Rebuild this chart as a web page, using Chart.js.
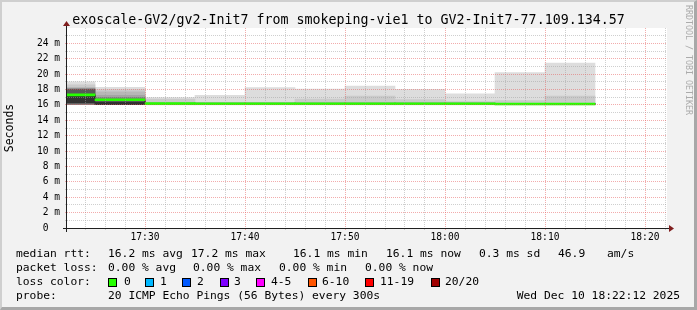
<!DOCTYPE html>
<html><head><meta charset="utf-8">
<script src="https://cdn.jsdelivr.net/npm/chart.js@4.4.1/dist/chart.umd.min.js"></script>
<style>
html,body{margin:0;padding:0;}
body{width:697px;height:310px;overflow:hidden;background:#f2f2f2;position:relative;font-family:"DejaVu Sans Mono",monospace;color:#000;}
#c{position:absolute;left:0;top:0;}
#frame{position:absolute;left:0;top:0;width:697px;height:310px;box-sizing:border-box;border-left:2px solid #cfcfcf;border-top:2px solid #cfcfcf;border-right:3px solid #a8a8a8;border-bottom:3px solid #a8a8a8;pointer-events:none;}
#title{position:absolute;left:0;top:12px;width:697px;text-align:center;font-size:13.3px;line-height:16px;white-space:pre;}
#wm{position:absolute;left:684px;top:5px;writing-mode:vertical-rl;font-size:8.3px;line-height:10px;color:#ababab;white-space:pre;}
.t{position:absolute;white-space:pre;font-size:11.3px;line-height:14px;}
.box{position:absolute;width:7px;height:7px;border:1px solid #000;}
</style>
</head><body>
<canvas id="c" width="697" height="310"></canvas>
<div id="title">exoscale-GV2/gv2-Init7 from smokeping-vie1 to GV2-Init7-77.109.134.57</div>
<div id="wm">RRDTOOL / TOBI OETIKER</div>
<div id="legend"></div>
<div id="frame"></div>
<script>
// time in minutes after 17:00; each value covers the 5 minutes ending at intervalEnds[i]
const intervalEnds = [25, 30, 35, 40, 45, 50, 55, 60, 65, 70, 75];
const median = [17.3, 16.67, 16.17, 16.15, 16.15, 16.15, 16.15, 16.15, 16.15, 16.12, 16.12];
// smoke layers (outer -> inner), values in ms as [low, high]
const smoke1 = [[16.04,19.0],[16.02,18.3],[16.0,16.95],[16.0,17.25],[16.0,18.25],[16.0,18.07],[16.0,18.45],[16.0,18.03],[16.0,17.43],[16.0,20.2],[16.0,21.45]];
const smoke2 = [[16.04,18.6],[16.03,18.0],[16.02,16.77],[16.02,16.3],[16.02,16.3],[16.02,16.77],[16.02,17.16],[16.02,16.7],[16.02,16.43],[16.02,16.55],[16.02,17.16]];
const smoke3 = [[16.04,18.3],[16.04,17.7],[16.05,16.25],[16.05,16.25],[16.05,16.25],[16.05,16.25],[16.05,16.25],[16.05,16.25],[16.05,16.25],[16.04,16.22],[16.04,16.22]];
const smoke4 = [[16.04,18.07],[16.04,17.25],[16.07,16.24],[16.07,16.24],[16.07,16.24],[16.07,16.24],[16.07,16.24],[16.07,16.24],[16.07,16.24],[16.05,16.2],[16.05,16.2]];
const smoke5 = [[16.04,18.07],[16.04,17.0],[16.08,16.23],[16.08,16.23],[16.08,16.23],[16.08,16.23],[16.08,16.23],[16.08,16.23],[16.08,16.23],[16.06,16.19],[16.06,16.19]];
const smoke6 = [[16.25,18.07],[16.04,16.55],[16.09,16.22],[16.09,16.22],[16.09,16.22],[16.09,16.22],[16.09,16.22],[16.09,16.22],[16.09,16.22],[16.07,16.18],[16.07,16.18]];
const smoke7 = [[16.25,17.35],[16.04,16.35],[16.1,16.2],[16.1,16.2],[16.1,16.2],[16.1,16.2],[16.1,16.2],[16.1,16.2],[16.1,16.2],[16.08,16.17],[16.08,16.17]];
const smokeColors = ['#dddddd','#cacaca','#b7b7b7','#a4a4a4','#7e7e7e','#585858','#323232'];
const medianColor = '#26ff00';
const yTickValues = [0,2,4,6,8,10,12,14,16,18,20,22,24];
const xTickLabels = ['17:30','17:40','17:50','18:00','18:10','18:20'];
const xMin = 22.2, xMax = 82.2, yMin = 0, yMax = 26;

const legendRows = [
  {y:254.3, items:[[16,'median rtt:'],[108,'16.2 ms avg'],[191,'17.2 ms max'],[293,'16.1 ms min'],[386,'16.1 ms now'],[479,'0.3 ms sd'],[558,'46.9'],[607,'am/s']]},
  {y:268.3, items:[[16,'packet loss:'],[108,'0.00 % avg'],[193,'0.00 % max'],[279,'0.00 % min'],[365,'0.00 % now']]},
  {y:282.3, items:[[16,'loss color:'],[124,'0'],[160,'1'],[197,'2'],[234,'3'],[271,'4-5'],[322,'6-10'],[380,'11-19'],[445,'20/20']]},
  {y:296.3, items:[[16,'probe:'],[108,'20 ICMP Echo Pings (56 Bytes) every 300s']]}
];
const lossBoxes = [[108,'#26ff00'],[145,'#00b8ff'],[182,'#0059ff'],[220,'#7e00ff'],[256,'#ff00ff'],[308,'#ff5500'],[365,'#ff0000'],[431,'#a00000']];
const lg = document.getElementById('legend');
legendRows.forEach(r => r.items.forEach(([x, s]) => {
  const d = document.createElement('div'); d.className = 't';
  d.style.left = x + 'px'; d.style.top = (r.y - 7) + 'px'; d.textContent = s; lg.appendChild(d);
}));
lossBoxes.forEach(([x, c]) => {
  const b = document.createElement('div'); b.className = 'box';
  b.style.left = x + 'px'; b.style.top = '278px'; b.style.background = c; lg.appendChild(b);
});
const dt = document.createElement('div'); dt.className = 't';
dt.style.right = '17px'; dt.style.top = (296.3 - 7) + 'px'; dt.textContent = 'Wed Dec 10 18:22:12 2025'; lg.appendChild(dt);

const centers = intervalEnds.map(e => e - 2.5);
const smokeLayers = [smoke1, smoke2, smoke3, smoke4, smoke5, smoke6, smoke7];
const datasets = [];
datasets.push({type:'bar', data: centers.map((x,i)=>({x, y:[median[i]-0.13, median[i]+0.13]})), backgroundColor: medianColor, order:0, stack:'s'});
const stepPts = intervalEnds.map((e,i)=>({x:e-5, y:median[i]}));
stepPts.push({x:intervalEnds[intervalEnds.length-1], y:median[median.length-1]});
datasets.push({type:'line', data: stepPts, stepped:'before', borderColor:'#202020', borderWidth:1, pointRadius:0, fill:false, order:1});
smokeLayers.forEach((layer, k) => {
  datasets.push({type:'bar', data: centers.map((x,i)=>({x, y:layer[i]})), backgroundColor: smokeColors[k], order: 8-k, stack:'s'});
});

const minorGrid = 'rgba(160,160,160,0.5)';
const majorGrid = 'rgba(230,90,90,0.5)';
const tickFont = {family:'DejaVu Sans Mono', size:9.6};

const bgPlugin = {
  id:'bg',
  beforeDraw(chart){
    const {ctx, chartArea:a} = chart;
    ctx.save(); ctx.fillStyle = '#ffffff'; ctx.fillRect(a.left, a.top, a.right-a.left, a.bottom-a.top); ctx.restore();
  },
  afterDraw(chart){
    const {ctx, chartArea:a} = chart;
    ctx.save();
    ctx.strokeStyle = '#1f1f1f'; ctx.lineWidth = 1;
    ctx.beginPath();
    ctx.moveTo(a.left-4, a.bottom+0.5); ctx.lineTo(a.right+4, a.bottom+0.5);
    ctx.moveTo(a.left-0.5, a.bottom+4); ctx.lineTo(a.left-0.5, a.top-4);
    ctx.stroke();
    ctx.fillStyle = '#801f1f';
    ctx.beginPath();
    ctx.moveTo(a.right+2, a.bottom-3); ctx.lineTo(a.right+2, a.bottom+4); ctx.lineTo(a.right+7, a.bottom+0.5); ctx.closePath(); ctx.fill();
    ctx.beginPath();
    ctx.moveTo(a.left-4, a.top-2); ctx.lineTo(a.left+3, a.top-2); ctx.lineTo(a.left-0.5, a.top-7); ctx.closePath(); ctx.fill();
    ctx.restore();
  }
};

new Chart(document.getElementById('c'), {
  data:{datasets},
  options:{
    responsive:false, animation:false, events:[],
    layout:{padding:{left:0, top:28, right:30, bottom:0}},
    plugins:{legend:{display:false}, tooltip:{enabled:false}, title:{display:false}},
    datasets:{bar:{barThickness:'flex', categoryPercentage:1, barPercentage:1, borderWidth:0}},
    scales:{
      x:{type:'linear', min:xMin, max:xMax, offset:false,
        afterFit(s){ s.height = 82; },
        afterBuildTicks(s){ const t=[]; for(let v=24; v<=82; v+=2) t.push({value:v}); s.ticks = t; },
        grid:{z:1, offset:false, drawTicks:true, tickLength:2, color:c=> (c.tick && c.tick.value%10===0) ? majorGrid : minorGrid, lineWidth:1},
        border:{display:false, dash:[1,1]},
        ticks:{autoSkip:false, maxRotation:0, padding:2, font:tickFont, color:'#000',
          callback:(v)=>{ if (v%10!==0) return ''; const idx = (v-30)/10; return xTickLabels[idx] || ''; }}
      },
      y:{type:'linear', min:yMin, max:yMax, stacked:false,
        afterFit(s){ s.width = 67; },
        grid:{z:1, drawTicks:true, tickLength:2, color:c=>{ const v=c.tick?c.tick.value:0; if (v===0||v===yMax) return 'rgba(0,0,0,0)'; return v%2===0 ? majorGrid : minorGrid; }, lineWidth:1},
        border:{display:false, dash:[1,1]},
        ticks:{stepSize:1, autoSkip:false, padding:5, font:tickFont, color:'#000',
          callback:(v)=>{ if (!yTickValues.includes(v)) return ''; return v===0 ? '0  ' : v + ' m'; }},
        title:{display:true, text:'Seconds', font:{family:'DejaVu Sans Mono', size:11.5}, color:'#000', padding:{top:3, bottom:0}}
      }
    }
  },
  plugins:[bgPlugin]
});
</script>
</body></html>
